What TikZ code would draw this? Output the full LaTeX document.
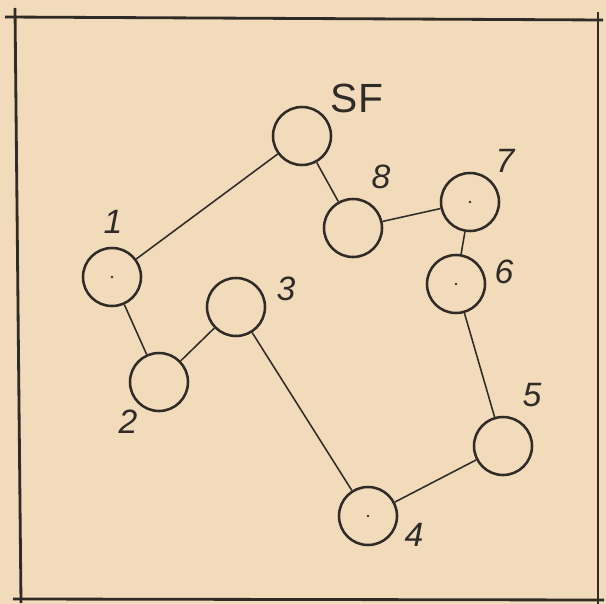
\documentclass[tikz,border=0pt]{standalone}
\usepackage{fontspec}
\setmainfont{Liberation Sans}
\usepackage{tikz}
\usetikzlibrary{positioning}
\definecolor{paper}{RGB}{241,219,187}
\definecolor{ink}{RGB}{48,43,38}

\begin{document}
\begin{tikzpicture}[x=0.025cm, y=-0.025cm,
  stop/.style={draw=ink, line width=1.8pt, circle, minimum size=1.45cm,
               inner sep=0pt},
  num/.style={text=ink, font=\fontsize{24}{28}\selectfont\itshape,
              inner sep=0pt},
  title/.style={text=ink, font=\fontsize{29}{32}\selectfont, inner sep=0pt},
  link/.style={draw=ink, line width=1.1pt},
  rim/.style={draw=ink, line width=2pt}
]
  \fill[paper] (0,0) rectangle (606,604);
  \useasboundingbox (0,0) rectangle (606,604);

  % frame
  \coordinate (tl1) at (5,17);   \coordinate (tr1) at (603,20);
  \coordinate (tl2) at (15,8);   \coordinate (bl2) at (21,603);
  \coordinate (bl1) at (13,599); \coordinate (br1) at (604,600);
  \coordinate (tr2) at (598,12); \coordinate (br2) at (598,604);
  \draw[rim] (tl1) -- (tr1);
  \draw[rim] (tl2) -- (bl2);
  \draw[rim] (bl1) -- (br1);
  \draw[rim] (tr2) -- (br2);

  % stations
  \node[stop] (SF) at (302,136) {};
  \node[stop] (n1) at (112,277) {};
  \node[stop] (n2) at (159,382) {};
  \node[stop] (n3) at (236,307) {};
  \node[stop] (n4) at (368,516) {};
  \node[stop] (n5) at (503,446) {};
  \node[stop] (n6) at (456,284) {};
  \node[stop] (n7) at (470,202) {};
  \node[stop] (n8) at (353,228) {};

  % compass marks
  \foreach \c in {n1,n4,n6,n7}
    \fill[ink] (\c.center) circle (0.9pt);

  % labels
  \node[title] (lSF) at (357,98)  {SF};
  \node[num]   (l1)  at (113,222) {1};
  \node[num]   (l2)  at (128,422) {2};
  \node[num]   (l3)  at (286,289) {3};
  \node[num]   (l4)  at (414,535) {4};
  \node[num]   (l5)  at (532,395) {5};
  \node[num]   (l6)  at (504,272) {6};
  \node[num]   (l7)  at (505,161) {7};
  \node[num]   (l8)  at (381,177) {8};

  % route
  \draw[link] (SF) -- (n1);
  \draw[link] (n1) -- (n2);
  \draw[link] (n2) -- (n3);
  \draw[link] (n3) -- (n4);
  \draw[link] (n4) -- (n5);
  \draw[link] (n5) -- (n6);
  \draw[link] (n6) -- (n7);
  \draw[link] (n7) -- (n8);
  \draw[link] (n8) -- (SF);
\end{tikzpicture}
\end{document}
